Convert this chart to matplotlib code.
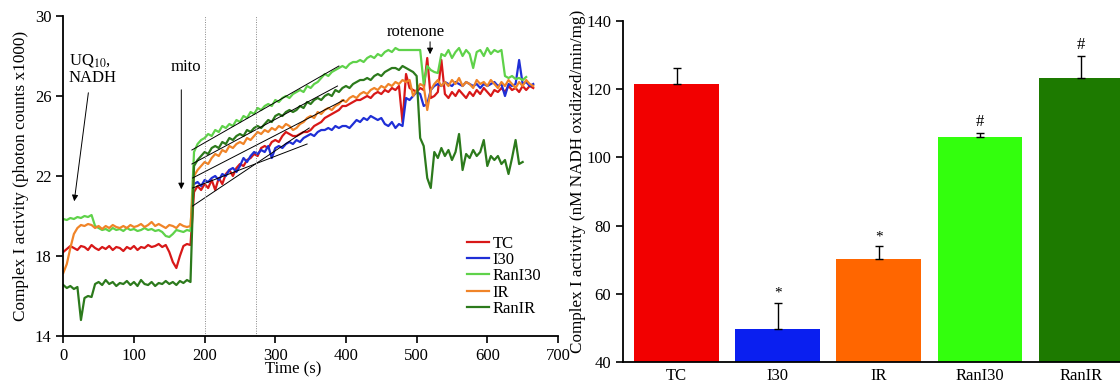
import numpy as np
import matplotlib
matplotlib.use("Agg")
import matplotlib.pyplot as plt

plt.rcParams['font.family'] = ['Liberation Serif', 'DejaVu Serif']
plt.rcParams['mathtext.fontset'] = 'stix'

# ---- left panel: luminescence traces, sampled every 5 s ----
step_s = 5

tc_start = 0
tc_vals = [18.2, 18.35, 18.5, 18.4, 18.3, 18.5, 18.45, 18.3, 18.55, 18.4, 18.3, 18.45, 18.35, 18.5, 18.3, 18.45,
           18.4, 18.25, 18.45, 18.35, 18.5, 18.3, 18.45, 18.4, 18.55, 18.45, 18.5, 18.6, 18.45, 18.55, 18.2, 17.7,
           17.4, 18.0, 18.5, 18.6, 18.55,
           21.2, 21.5, 21.3, 21.6, 21.4, 21.8, 21.3, 21.9, 21.6, 22.1, 22.3, 22.0, 22.4, 22.6, 22.5, 22.8, 22.9,
           23.1, 23.0, 23.4, 23.5, 23.4, 23.7, 23.8, 23.7, 24.0, 24.2, 24.1, 24.0, 24.0, 24.1, 24.2, 24.2, 24.3,
           24.5, 24.6, 24.7, 24.9, 25.0, 25.1, 25.2, 25.3, 25.5, 25.5, 25.6, 25.7, 25.8, 25.8, 25.9, 26.0, 25.9,
           26.1, 26.2, 26.1, 26.3, 26.2, 26.4, 26.3, 26.5, 24.7, 27.1, 26.4, 26.3, 26.2, 26.4, 26.3, 27.9, 25.9,
           26.0, 26.2, 27.8, 26.1, 25.9, 26.2, 26.0, 26.3, 26.1, 25.9, 26.2, 26.0, 26.3, 26.1, 26.4, 26.2, 26.0,
           26.3, 26.2, 26.4, 26.2, 26.5, 26.3, 26.4, 26.2, 26.5, 26.3, 26.5, 26.4]

i30_start = 185
i30_vals = [21.6, 21.7, 21.5, 21.8, 21.7, 21.9, 22.0, 21.8, 22.1, 22.0, 22.3, 22.4, 22.2, 22.5, 22.9, 22.7,
            23.0, 23.2, 23.1, 23.3, 23.2, 23.5, 22.9, 23.4, 23.5, 23.4, 23.6, 23.7, 23.6, 23.8, 23.7, 23.9,
            24.0, 24.1, 24.0, 24.2, 24.3, 24.3, 24.4, 24.3, 24.5, 24.4, 24.5, 24.5, 24.4, 24.6, 24.8, 24.7,
            24.9, 24.8, 25.0, 24.9, 24.8, 24.9, 24.6, 24.5, 24.7, 24.4, 24.6, 24.5, 25.9, 25.8, 26.0, 26.2,
            26.1, 25.5, 25.6, 26.3, 26.5, 26.6, 26.5, 26.7, 26.6, 26.5, 26.7, 26.6, 26.5, 26.7, 26.6, 26.5,
            26.6, 26.4, 26.6, 26.5, 26.6, 26.7, 26.5, 26.6, 26.0, 26.6, 26.5, 26.6, 27.8, 26.6, 26.7, 26.5, 26.6]

rani30_start = 0
rani30_vals = [19.85, 19.8, 19.9, 19.85, 19.95, 19.9, 20.0, 19.95, 20.05, 19.5, 19.4, 19.3, 19.35, 19.25, 19.4,
               19.3, 19.35, 19.25, 19.4, 19.3, 19.35, 19.25, 19.3, 19.4, 19.3, 19.35, 19.25, 19.3, 19.2, 19.0,
               18.95, 19.1, 19.3, 19.25, 19.2, 19.3, 19.25,
               23.2, 23.6, 23.8, 23.9, 24.1, 24.0, 24.3, 24.2, 24.5, 24.4, 24.6, 24.5, 24.8, 24.7, 25.0, 24.9,
               25.2, 25.1, 25.4, 25.3, 25.5, 25.6, 25.5, 25.8, 25.7, 25.9, 26.0, 25.9, 26.1, 26.2, 26.3, 26.2,
               26.5, 26.4, 26.6, 26.7, 26.9, 27.1, 27.0, 27.2, 27.3, 27.4, 27.5, 27.4, 27.6, 27.7, 27.7, 27.8,
               27.7, 27.9, 28.0, 27.9, 28.1, 28.0, 28.2, 28.3, 28.2, 28.4, 28.3, 28.3, 28.3, 28.3, 28.3, 28.3,
               28.3, 26.6, 27.5, 27.3, 27.2, 27.15, 28.1, 28.0, 28.3, 27.9, 28.2, 28.4, 28.0, 28.3, 28.1, 27.4,
               28.2, 28.3, 28.0, 28.4, 28.1, 28.3, 28.2, 28.3, 27.0, 26.9, 27.0, 26.85, 26.9, 26.8, 26.95]

ir_start = 0
ir_vals = [17.15, 17.6, 18.4, 19.1, 19.4, 19.55, 19.5, 19.6, 19.55, 19.4, 19.5, 19.35, 19.5, 19.4, 19.55, 19.45,
           19.4, 19.5, 19.4, 19.55, 19.45, 19.5, 19.6, 19.45, 19.55, 19.7, 19.5, 19.6, 19.5, 19.4, 19.55, 19.5,
           19.4, 19.6, 19.5, 19.45, 19.5,
           22.0, 22.3, 22.5, 22.7, 22.6, 22.9, 23.1, 23.0, 23.3, 23.2, 23.5, 23.4, 23.6, 23.7, 23.6, 23.9, 23.8,
           24.0, 24.2, 24.1, 24.3, 24.2, 24.4, 24.3, 24.5, 24.4, 24.6, 24.5, 24.3, 24.4, 24.6, 24.7, 24.9, 25.0,
           24.9, 25.2, 25.1, 25.3, 25.4, 25.3, 25.5, 25.6, 25.8, 25.7, 25.9, 26.0, 25.9, 26.1, 26.2, 26.1, 26.3,
           26.4, 26.3, 26.5, 26.4, 26.6, 26.5, 26.7, 26.6, 26.8, 26.7, 26.8, 26.0, 26.3, 26.6, 26.5, 25.3, 26.3,
           26.6, 26.8, 26.5, 26.7, 26.5, 26.8, 26.6, 26.9, 26.5, 26.7, 26.6, 26.4, 26.8, 26.6, 26.7, 26.5, 26.8,
           26.6, 26.4, 26.7, 26.5, 26.8, 26.6, 26.4, 26.7, 26.5, 26.8, 26.6, 26.5]

ranir_start = 0
ranir_vals = [16.55, 16.4, 16.5, 16.35, 16.45, 14.8, 15.9, 16.0, 15.95, 16.6, 16.7, 16.55, 16.8, 16.6, 16.7,
              16.5, 16.65, 16.6, 16.75, 16.55, 16.7, 16.5, 16.8, 16.6, 16.55, 16.7, 16.5, 16.65, 16.6, 16.75,
              16.6, 16.7, 16.55, 16.75, 16.65, 16.8, 16.7,
              22.5, 22.8, 23.0, 23.2, 23.1, 23.4, 23.5, 23.4, 23.7, 23.6, 23.9, 23.8, 24.0, 24.1, 24.0, 24.3,
              24.2, 24.4, 24.5, 24.4, 24.6, 24.8, 24.7, 25.0, 25.1, 25.0, 25.2, 25.3, 25.2, 25.3, 25.5, 25.4,
              25.7, 25.6, 25.8, 25.9, 25.8, 26.0, 26.1, 26.0, 26.3, 26.2, 26.4, 26.5, 26.4, 26.6, 26.7, 26.8,
              26.8, 26.9, 26.8, 27.0, 27.1, 27.0, 27.2, 27.3, 27.4, 27.4, 27.3, 27.5, 27.4, 27.3, 27.2, 27.0,
              23.9, 23.5, 21.9, 21.4, 23.2, 22.9, 23.4, 23.0, 23.3, 22.8, 23.2, 24.1, 22.3, 23.1, 22.9, 23.3,
              23.0, 23.2, 23.8, 22.5, 23.0, 22.8, 23.0, 22.6, 22.8, 22.1, 22.9, 23.8, 22.6, 22.7]

trace_names = ["TC", "I30", "RanI30", "IR", "RanIR"]
trace_colors = ["#d81818", "#1f2fd6", "#5fd24a", "#f08428", "#2c7a1c"]
trace_starts = [tc_start, i30_start, rani30_start, ir_start, ranir_start]
trace_vals = [tc_vals, i30_vals, rani30_vals, ir_vals, ranir_vals]

# fitted slope lines (start time, start value, end time, end value)
fit_t0 = [183, 183, 182, 183, 182]
fit_v0 = [20.5, 21.4, 23.3, 21.9, 22.6]
fit_t1 = [348, 345, 390, 397, 388]
fit_v1 = [24.4, 23.6, 27.5, 25.8, 26.5]

marker_lines_s = [200, 272]

# ---- right panel: bar chart ----
groups = ["TC", "I30", "IR", "RanI30", "RanIR"]
activity = [121.5, 49.6, 70.2, 106.1, 123.2]
activity_err = [4.8, 7.8, 3.8, 1.0, 6.5]
signif = ["", "*", "*", "#", "#"]
bar_colors = ["#f20000", "#0a1ff0", "#ff6600", "#33ff0d", "#1d7a00"]

fig = plt.figure(figsize=(11.2, 3.83), dpi=100)

ax1 = fig.add_axes([0.0565, 0.1227, 0.4417, 0.8355])
for name, col, t0, vals in zip(trace_names, trace_colors, trace_starts, trace_vals):
    t = t0 + step_s * np.arange(len(vals))
    ax1.plot(t, vals, color=col, lw=1.6, label=name)
for a, b, c, d in zip(fit_t0, fit_v0, fit_t1, fit_v1):
    ax1.plot([a, c], [b, d], color="black", lw=0.7)
for xm in marker_lines_s:
    ax1.axvline(xm, color="#888888", lw=0.7, ls=(0, (1, 1.5)))

ax1.set_xlim(0, 700)
ax1.set_ylim(14, 30)
ax1.set_xticks([0, 100, 200, 300, 400, 500, 600, 700])
ax1.set_yticks([14, 18, 22, 26, 30])
ax1.spines["top"].set_visible(False)
ax1.spines["right"].set_visible(False)
for s in ["left", "bottom"]:
    ax1.spines[s].set_linewidth(1.3)
ax1.tick_params(direction="out", length=5, width=1.2, labelsize=12)
ax1.set_xlabel("Time (s)", fontsize=12)
ax1.xaxis.set_label_coords(0.465, -0.08)
ax1.set_ylabel("Complex I activity (photon counts x1000)", fontsize=12.4)

arrow = dict(arrowstyle="-|>", color="black", lw=0.7, mutation_scale=9)
ax1.annotate("", xy=(15, 20.6), xytext=(36, 26.3), arrowprops=arrow)
ax1.text(8, 28.2, "UQ$_{10}$,\nNADH", fontsize=12, ha="left", va="top", linespacing=1.05)
ax1.annotate("", xy=(167, 21.2), xytext=(167, 26.45), arrowprops=arrow)
ax1.text(174, 27.45, "mito", fontsize=12, ha="center", va="center")
ax1.annotate("", xy=(519, 27.95), xytext=(519, 28.85), arrowprops=arrow)
ax1.text(499, 29.2, "rotenone", fontsize=12, ha="center", va="center")

ax1.legend(loc="upper left", bbox_to_anchor=(0.8, 0.34), frameon=False, fontsize=12,
           handlelength=1.3, handletextpad=0.2, labelspacing=0.02, borderpad=0)

ax2 = fig.add_axes([0.5563, 0.0548, 0.4438, 0.8903])
xpos = np.arange(len(groups))
ax2.bar(xpos, activity, width=0.835, color=bar_colors, bottom=0)
ax2.errorbar(xpos, activity, yerr=[np.zeros(len(groups)), activity_err], fmt="none",
             ecolor="black", elinewidth=1.0, capsize=3, capthick=1.0)
for x, v, e, s in zip(xpos, activity, activity_err, signif):
    if s:
        ax2.text(x, v + e + 0.8, s, ha="center", va="bottom", fontsize=12 if s == "#" else 11)
ax2.set_xlim(-0.53, 4.39)
ax2.set_ylim(40, 140)
ax2.set_yticks([40, 60, 80, 100, 120, 140])
ax2.set_xticks(xpos)
ax2.set_xticklabels(groups)
ax2.spines["top"].set_visible(False)
ax2.spines["right"].set_visible(False)
for s in ["left", "bottom"]:
    ax2.spines[s].set_linewidth(1.3)
ax2.tick_params(axis="y", direction="out", length=5, width=1.2, labelsize=12)
ax2.tick_params(axis="x", length=0, labelsize=12, pad=4)
ax2.set_ylabel("Complex I activity (nM NADH oxidized/min/mg)", fontsize=12.3)
ax2.yaxis.set_label_coords(-0.075, 0.53)

fig.savefig("out.png", dpi=100)
